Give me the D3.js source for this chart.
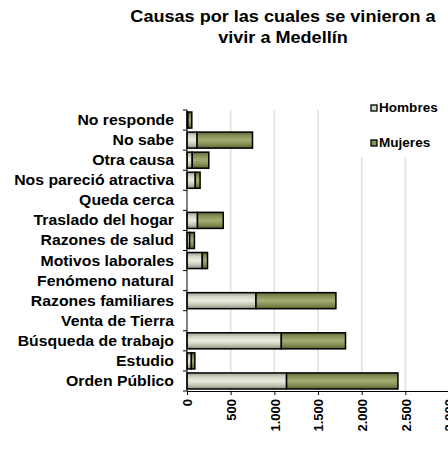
<!DOCTYPE html>
<html>
<head>
<meta charset="utf-8">
<script src="https://cdn.jsdelivr.net/npm/d3@7"></script>
<style>
  body { margin: 0; background: #fff; }
  text { font-family: "Liberation Sans", Arial, sans-serif; font-weight: bold; fill: #000; }
</style>
</head>
<body>
<div id="chart-area"></div>
<script>
// datos
let categorias = ["No responde", "No sabe", "Otra causa", "Nos pareció atractiva", "Queda cerca",
                  "Traslado del hogar", "Razones de salud", "Motivos laborales", "Fenómeno natural",
                  "Razones familiares", "Venta de Tierra", "Búsqueda de trabajo", "Estudio", "Orden Público"]
let hombres = [10, 115, 60, 95, 0, 120, 30, 175, 0, 790, 0, 1080, 50, 1140]
let mujeres = [45, 635, 190, 55, 0, 295, 55, 60, 0, 915, 0, 735, 40, 1275]
let series = ["Hombres", "Mujeres"]
let ticksX = [0, 500, 1000, 1500, 2000, 2500, 3000]

let W = 448, H = 454
let stretch = "scale(1.13,1)"

let svg = d3.select("#chart-area").append("svg")
            .attr("width", W)
            .attr("height", H)

let defs = svg.append("defs")
let grads = [
  { id: "gH", stops: ["#9a9c8c", "#d4d6c6", "#eceddf", "#c6c8b6", "#8e907f"] },
  { id: "gM", stops: ["#5f6838", "#8a9459", "#a4ad72", "#858f55", "#59622f"] }
]
grads.forEach(g => {
  let lg = defs.append("linearGradient").attr("id", g.id)
               .attr("x1", 0).attr("y1", 0).attr("x2", 0).attr("y2", 1)
  g.stops.forEach((c, i) => {
    lg.append("stop").attr("offset", (i / (g.stops.length - 1) * 100) + "%").attr("stop-color", c)
  })
})
let fills = { Hombres: "url(#gH)", Mujeres: "url(#gM)" }
let legendFill = { Hombres: "#d6d8c8", Mujeres: "#8a9459" }

let tabla = categorias.map((c, i) => ({ cat: c, Hombres: hombres[i], Mujeres: mujeres[i] }))
let stacked = d3.stack().keys(series)(tabla)

let x = d3.scaleLinear().domain([0, 3000]).range([187, 449])
let y = d3.scaleBand().domain(categorias).range([110, 391])
          .paddingInner(0.2).paddingOuter(0.1)

// lineas de cuadricula
svg.append("g").selectAll("line")
   .data(ticksX.slice(1))
   .enter()
   .append("line")
   .attr("x1", d => x(d)).attr("x2", d => x(d))
   .attr("y1", 110).attr("y2", 391)
   .attr("stroke", "#e4e4d6")
   .attr("stroke-width", 1.6)

// barras
let capas = svg.append("g").selectAll("g")
               .data(stacked)
               .enter()
               .append("g")
               .attr("fill", d => fills[d.key])

capas.selectAll("rect")
     .data(d => d.filter(p => p[1] - p[0] > 0))
     .enter()
     .append("rect")
     .attr("x", d => x(d[0]))
     .attr("y", d => y(d.data.cat))
     .attr("width", d => x(d[1]) - x(d[0]))
     .attr("height", y.bandwidth())
     .attr("stroke", "#000")
     .attr("stroke-width", 1.5)

// eje y
let step = y.step()
svg.append("line")
   .attr("x1", 187).attr("x2", 187)
   .attr("y1", 110).attr("y2", 391)
   .attr("stroke", "#000")
svg.append("g").selectAll("line")
   .data(d3.range(categorias.length + 1))
   .enter()
   .append("line")
   .attr("x1", 183).attr("x2", 187)
   .attr("y1", i => 110 + i * step).attr("y2", i => 110 + i * step)
   .attr("stroke", "#000")

svg.append("g").selectAll("g")
   .data(categorias)
   .enter()
   .append("g")
   .attr("transform", d => "translate(174," + (y(d) + y.bandwidth() / 2 + 5) + ")")
   .append("text")
   .attr("transform", stretch)
   .attr("text-anchor", "end")
   .style("font-size", "14px")
   .text(d => d)

// eje x
let fmt = d3.formatLocale({ decimal: ",", thousands: ".", grouping: [3], currency: ["", ""] }).format(",d")
let ejeX = svg.append("g")
              .attr("transform", "translate(0,391)")
              .call(d3.axisBottom(x).tickValues(ticksX).tickFormat(fmt).tickSize(4).tickSizeOuter(0))
ejeX.select(".domain").attr("stroke", "#000")
ejeX.selectAll(".tick line").attr("stroke", "#000")
ejeX.selectAll("text")
    .attr("transform", "rotate(-90)")
    .attr("x", -8)
    .attr("y", 0)
    .attr("dy", "0.36em")
    .style("text-anchor", "end")
    .style("font-size", "13px")
    .style("font-family", "'Liberation Sans', Arial, sans-serif")
    .style("font-weight", "bold")

// leyenda
svg.append("rect")
   .attr("x", 356).attr("y", 92)
   .attr("width", 92).attr("height", 65)
   .attr("fill", "#fff")

let ley = svg.append("g").selectAll("g")
             .data(series)
             .enter()
             .append("g")
             .attr("transform", (d, i) => "translate(371," + (105 + i * 35) + ")")
ley.append("rect")
   .attr("width", 6).attr("height", 6)
   .attr("fill", d => legendFill[d])
   .attr("stroke", "#000")
   .attr("stroke-width", 1.3)
ley.append("g")
   .attr("transform", "translate(8,7)")
   .append("text")
   .attr("transform", stretch)
   .style("font-size", "12px")
   .text(d => d)

// titulo
let titulo = ["Causas por las cuales se vinieron a", "vivir a Medellín"]
svg.append("g").selectAll("g")
   .data(titulo)
   .enter()
   .append("g")
   .attr("transform", (d, i) => "translate(283," + (22 + i * 21) + ")")
   .append("text")
   .attr("transform", stretch)
   .attr("text-anchor", "middle")
   .style("font-size", "16px")
   .text(d => d)
</script>
</body>
</html>
